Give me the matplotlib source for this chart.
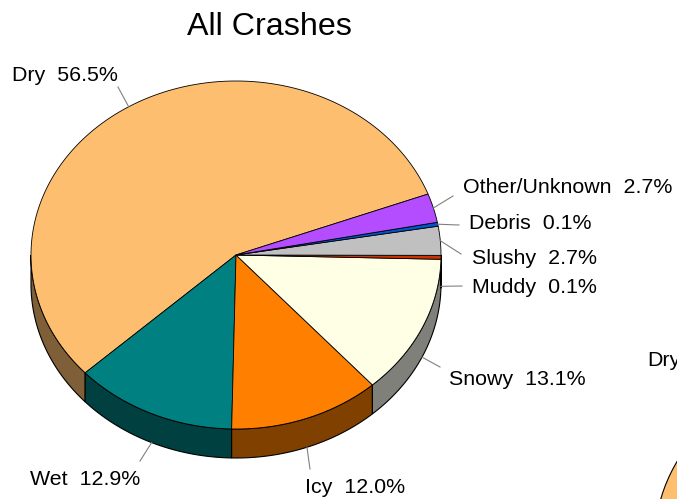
import numpy as np
import matplotlib
matplotlib.use("Agg")
import matplotlib.pyplot as plt
from matplotlib.patches import Polygon, Ellipse

plt.rcParams["font.family"] = ["Liberation Sans", "DejaVu Sans"]

# ── data ───────────────────────────────────────────────────────────────────────
categories = ["Dry", "Wet", "Icy", "Snowy", "Muddy", "Slushy", "Debris", "Other/Unknown"]
percents = [56.5, 12.9, 12.0, 13.1, 0.1, 2.7, 0.1, 2.7]
top_colors = ["#FDBF6F", "#008080", "#FF8000", "#FFFFE6", "#CC3300",
              "#C0C0C0", "#0055CC", "#B44CFF"]
side_colors = ["#7F5F37", "#004040", "#804000", "#80807A", "#661A00",
               "#606060", "#002A66", "#5A2680"]

# label placement (pixel space): text left x, baseline y, leader end point
label_pos = {
    "Dry": (12, 81, 118, 87),
    "Wet": (30, 485, 140, 461),
    "Icy": (305, 493, 310, 469),
    "Snowy": (449, 385, 440, 367),
    "Muddy": (472, 293, 462, 286),
    "Slushy": (472, 264, 461, 254),
    "Debris": (469, 229, 459, 225),
    "Other/Unknown": (463, 193, 453, 196),
}

# ── geometry ───────────────────────────────────────────────────────────────────
CX, CY, RX, RY, DEPTH = 236, 255, 205, 174, 29
START = 20.5
MIN_SWEEP = 1.3     # tiny slices are drawn at least this wide (deg)
LABEL_FS = 15.4


def ell(theta_deg, dy=0.0):
    t = np.radians(theta_deg)
    return CX + RX * np.cos(t), CY - RY * np.sin(t) + dy


def arc(a, b, dy=0.0, n=None):
    n = n or max(int(abs(b - a)) * 2, 4)
    ts = np.linspace(a, b, n)
    xs, ys = ell(ts, dy)
    return np.column_stack([xs, ys])


fig = plt.figure(figsize=(6.77, 4.99), dpi=100)
ax = fig.add_axes([0, 0, 1, 1])
ax.set_xlim(0, 677)
ax.set_ylim(499, 0)
ax.axis("off")

sweep = 360 * np.array(percents) / sum(percents)
small = sweep < MIN_SWEEP
big_total = sweep[~small].sum()
sweep[small] = MIN_SWEEP
sweep[~small] *= (360 - MIN_SWEEP * small.sum()) / big_total
bounds = START + np.concatenate([[0], np.cumsum(sweep)])

# sides (only the front half, 180..360 deg, is visible)
for i in range(len(categories)):
    a, b = bounds[i], bounds[i + 1]
    for lo, hi in [(180, 360), (540, 720)]:
        s, e = max(a, lo), min(b, hi)
        if e <= s:
            continue
        top = arc(s, e)
        bot = arc(e, s, DEPTH)
        ax.add_patch(Polygon(np.vstack([top, bot]), closed=True,
                             facecolor=side_colors[i], edgecolor="black", lw=0.8))

# top faces
for i in range(len(categories)):
    a, b = bounds[i], bounds[i + 1]
    pts = np.vstack([[CX, CY], arc(a, b, n=max(int(b - a) * 2, 3))])
    ax.add_patch(Polygon(pts, closed=True, facecolor=top_colors[i],
                         edgecolor="black", lw=0.6))

# labels + leader lines
for i, cat in enumerate(categories):
    mid = (bounds[i] + bounds[i + 1]) / 2
    dy = DEPTH if np.sin(np.radians(mid)) < 0 else 0
    sx, sy = ell(mid, dy)
    tx, ty, lx, ly = label_pos[cat]
    ax.plot([sx, lx], [sy, ly], color="0.5", lw=0.8)
    ax.text(tx, ty, f"{cat}  {percents[i]:.1f}%", fontsize=LABEL_FS,
            ha="left", va="baseline")

ax.text(269, 35, "All Crashes", fontsize=23.2, ha="center", va="baseline")

# neighbouring pie, mostly outside the frame
ax.add_patch(Ellipse((860, 540), 2 * RX, 2 * RY, facecolor=top_colors[0],
                     edgecolor="black", lw=0.8))
ax.text(647, 366, "Dry", fontsize=LABEL_FS, ha="left", va="baseline")

fig.savefig("out.png", dpi=100)
